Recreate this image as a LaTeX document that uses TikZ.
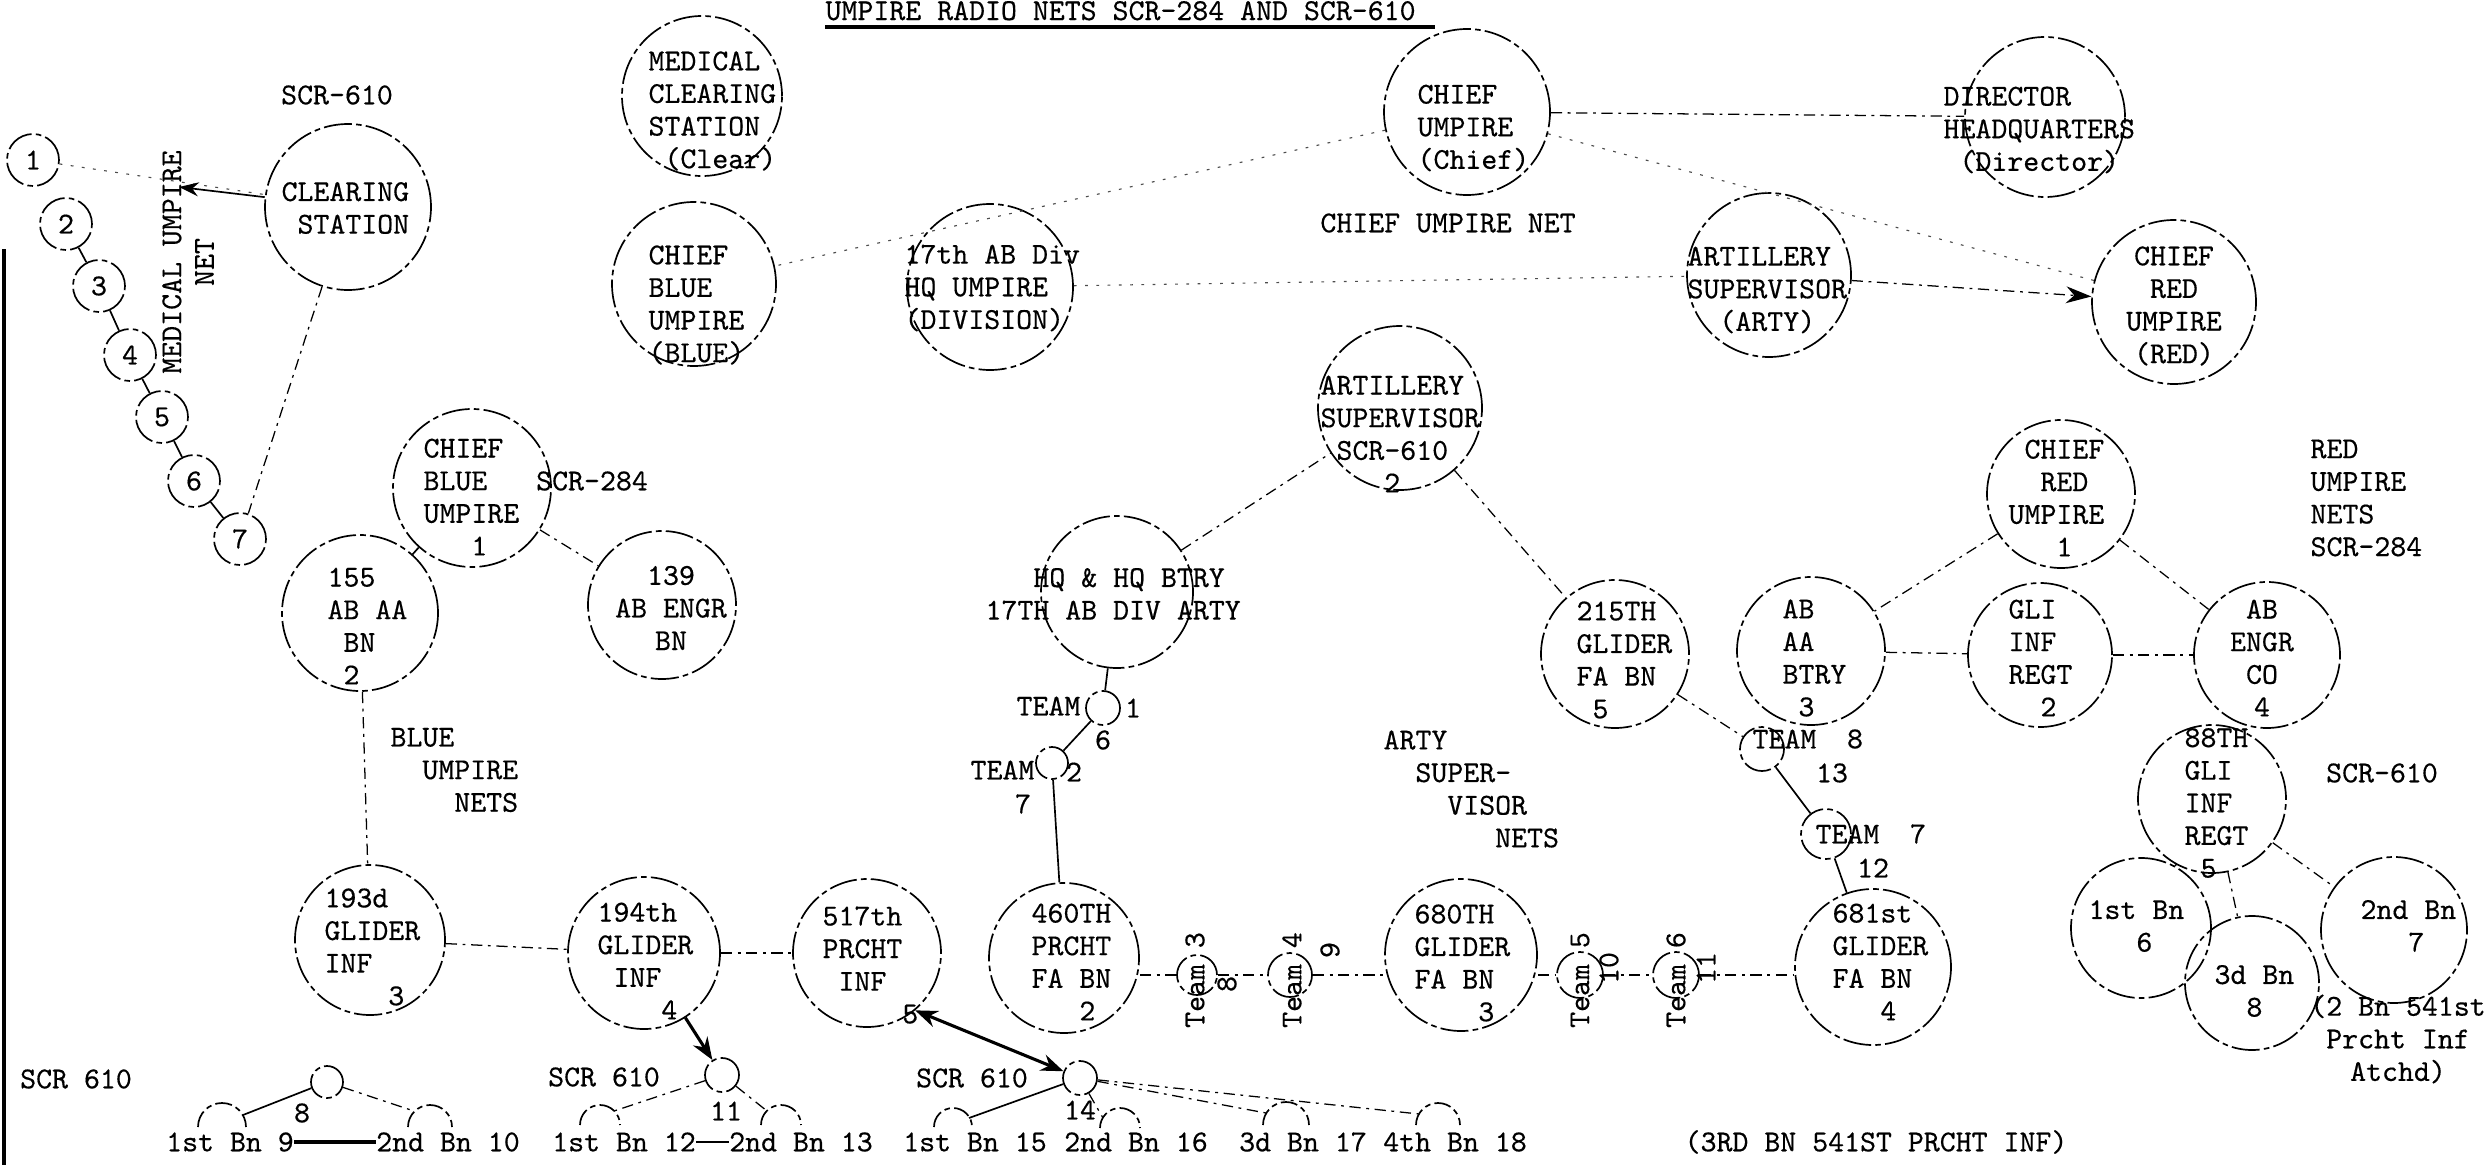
\documentclass[tikz,border=0pt]{standalone}
\usepackage{fontspec}
\setmonofont[FakeBold=0.4]{lmmono10-regular.otf}
\usetikzlibrary{arrows.meta}
\newcommand\umpfont{\fontsize{10.8}{11.6}\selectfont\ttfamily}
\begin{document}
\begin{tikzpicture}[x=0.0125cm,y=-0.0125cm,
  circ/.style={circle, draw, inner sep=0pt, minimum size=#1*0.025cm, line width=0.6pt,
     dash pattern=on 10pt off 1.5pt on 2pt off 1.5pt, font=\umpfont},
  arcline/.style={line width=0.6pt, dash pattern=on 6pt off 1.5pt on 2pt off 1.5pt},
  txt/.style={font=\umpfont, inner sep=0pt, align=left, anchor=west},
  ctxt/.style={font=\umpfont, inner sep=0pt, align=center},
  link/.style={line width=0.45pt, dash pattern=on 4pt off 2pt on 1pt off 2pt},
  faint/.style={line width=0.4pt, dash pattern=on 1pt off 3pt, black!70},
  solidlink/.style={line width=0.6pt},
  boldarrow/.style={line width=1.1pt, -{Stealth[length=8pt,width=6pt]}}
]
\useasboundingbox (0,0) rectangle (2492,1165);
\clip (0,0) rectangle (2492,1165);

% border and title
\draw[line width=1.1pt] (4,249) -- (4,1165);
\node[txt, anchor=base west] (title) at (825,20) {UMPIRE RADIO NETS SCR-284 AND SCR-610};
\draw[line width=1.4pt] (825,27) -- (1435,27);

% ---------- medical umpire net ----------
\node[circ=80] (cmed) at (702,96) {};
\node[txt] (tmed) at (648,111) {MEDICAL\\CLEARING\\STATION\\~(Clear)};
\node[ctxt] (lscr610a) at (337,95) {SCR-610};
\node[circ=83] (cclr) at (348,207) {};
\node[txt] (tclr) at (281,208) {CLEARING\\~STATION};
\node[ctxt, rotate=90] (tmun) at (188,262) {MEDICAL UMPIRE\\NET};
\node[circ=26] (n1) at (33,160) {1};
\node[circ=26] (n2) at (66,224) {2};
\node[circ=26] (n3) at (99,286) {3};
\node[circ=26] (n4) at (130,355) {4};
\node[circ=26] (n5) at (162,417) {5};
\node[circ=26] (n6) at (194,481) {6};
\node[circ=26] (n7) at (240,539) {7};
\coordinate (marrow) at (179,187);
\draw[faint] (n1) -- (cclr);
\draw[solidlink, -{Stealth[length=7pt,width=5pt]}] (cclr) -- (marrow);
\draw[solidlink] (n2) -- (n3);
\draw[solidlink] (n3) -- (n4);
\draw[solidlink] (n4) -- (n5);
\draw[solidlink] (n5) -- (n6);
\draw[solidlink] (n6) -- (n7);
\draw[link] (cclr) -- (n7);

% ---------- chief umpire net ----------
\node[circ=82] (cbluetop) at (694,284) {};
\node[txt] (tbluetop) at (648,305) {CHIEF\\BLUE\\UMPIRE\\(BLUE)};
\node[circ=83] (cdiv) at (990,287) {};
\node[txt] (tdiv) at (904,288) {17th AB Div\\HQ UMPIRE\\(DIVISION)};
\node[circ=83] (cchief) at (1467,112) {};
\node[txt] (tchief) at (1417,128) {CHIEF\\UMPIRE\\(Chief)};
\node[ctxt] (tcun) at (1448,223) {CHIEF UMPIRE NET};
\node[circ=80] (cdir) at (2045,117) {};
\node[txt] (tdir) at (1943,130) {DIRECTOR\\HEADQUARTERS\\~(Director)};
\node[circ=82] (cartytop) at (1769,275) {};
\node[txt] (tartytop) at (1687,290) {ARTILLERY\\SUPERVISOR\\~~(ARTY)};
\node[circ=82] (cred) at (2174,302) {};
\node[ctxt] (tred) at (2174,306) {CHIEF\\RED\\UMPIRE\\(RED)};
\draw[faint] (cchief) -- (cbluetop);
\draw[link] (cchief) -- (cdir);
\draw[faint] (cchief) -- (cred);
\draw[faint] (cdiv) -- (cartytop);
\draw[link, -{Stealth[length=9pt,width=6pt]}] (cartytop) -- (cred);

% ---------- artillery supervisor nets ----------
\node[circ=82] (carty2) at (1400,408) {};
\node[txt] (tarty2) at (1320,434) {ARTILLERY\\SUPERVISOR\\~SCR-610\\~~~~2};
\node[circ=76] (chq) at (1117,592) {};
\node[txt] (thq) at (985,594) {~~~HQ \& HQ BTRY\\17TH AB DIV ARTY};
\draw[link] (chq) -- (carty2);
\node[circ=17] (ct1) at (1103,708) {};
\node[txt] (ltm1) at (1016,706) {TEAM};
\node[ctxt] (ltm1a) at (1133,708) {1};
\node[ctxt] (ltm1b) at (1103,740) {6};
\node[circ=16] (ct2) at (1052,763) {};
\node[txt] (ltm2) at (970,770) {TEAM};
\node[ctxt] (ltm2a) at (1074,772) {2};
\node[ctxt] (ltm2b) at (1023,804) {7};
\node[circ=75] (c460) at (1064,958) {};
\node[txt] (t460) at (1031,962) {460TH\\PRCHT\\FA BN\\~~~2};
\draw[solidlink] (chq) -- (ct1);
\draw[solidlink] (ct1) -- (ct2);
\draw[solidlink] (ct2) -- (c460);
\node[txt] (tartynets) at (1383,789) {ARTY\\~~SUPER-\\~~~~VISOR\\~~~~~~~NETS};
\node[circ=20] (ct3) at (1197,975) {};
\node[ctxt, rotate=90] (ltm3) at (1195,980) {Team 3};
\node[ctxt, rotate=90] (ltm3b) at (1227,984) {8};
\node[circ=22] (ct4) at (1290,975) {};
\node[ctxt, rotate=90] (ltm4) at (1292,980) {Team 4};
\node[ctxt, rotate=90] (ltm4b) at (1330,950) {9};
\node[circ=76] (c680) at (1461,955) {};
\node[txt] (t680) at (1414,963) {680TH\\GLIDER\\FA BN\\~~~~3};
\node[circ=23] (ct5) at (1580,975) {};
\node[ctxt, rotate=90] (ltm5) at (1580,980) {Team 5};
\node[ctxt, rotate=90] (ltm5b) at (1609,968) {10};
\node[circ=23] (ct6) at (1676,975) {};
\node[ctxt, rotate=90] (ltm6) at (1676,980) {Team 6};
\node[ctxt, rotate=90] (ltm6b) at (1706,968) {11};
\node[circ=78] (c681) at (1873,967) {};
\node[txt] (t681) at (1832,962) {681st\\GLIDER\\FA BN\\~~~4};
\draw[link] (c460.east |- ct3) -- (ct3.west);
\draw[link] (ct3.east) -- (ct4.west);
\draw[link] (ct4.east) -- (ct4.east -| c680.west);
\draw[link] (c680.east |- ct5) -- (ct5.west);
\draw[link] (ct5.east) -- (ct6.west);
\draw[link] (ct6.east) -- (ct6.east -| c681.west);

% ---------- red umpire nets ----------
\node[circ=74] (c215) at (1615,654) {};
\node[txt] (t215) at (1576,660) {215TH\\GLIDER\\FA BN\\~5};
\draw[link] (carty2) -- (c215);
\node[circ=74] (cabaa) at (1811,651) {};
\node[txt] (tabaa) at (1782,658) {AB\\AA\\BTRY\\~3};
\node[circ=22] (ct8) at (1762,749) {};
\node[txt] (ltm8) at (1752,739) {TEAM};
\node[ctxt] (ltm8a) at (1855,739) {8};
\node[ctxt] (ltm8b) at (1832,773) {13};
\node[circ=25] (ct7) at (1826,834) {};
\node[txt] (ltm7) at (1815,834) {TEAM};
\node[ctxt] (ltm7a) at (1918,834) {7};
\node[ctxt] (ltm7b) at (1873,868) {12};
\draw[link] (c215) -- (ct8);
\draw[solidlink] (ct8) -- (ct7);
\draw[solidlink] (ct7) -- (c681);
\node[circ=74] (credc1) at (2061,494) {};
\node[txt] (tredc1) at (2008,498) {~CHIEF\\~~RED\\UMPIRE\\~~~1};
\node[txt] (trednets) at (2310,498) {RED\\UMPIRE\\NETS\\SCR-284};
\node[circ=72] (cgli) at (2040,655) {};
\node[txt] (tgli) at (2008,658) {GLI\\INF\\REGT\\~~2};
\node[circ=73] (cabengr) at (2267,655) {};
\node[ctxt] (tabengr) at (2262,658) {AB\\ENGR\\CO\\4};
\draw[link] (credc1) -- (cabaa);
\draw[link] (credc1) -- (cabengr);
\draw[link] (cabaa) -- (cgli);
\draw[link] (cgli) -- (cabengr);
\node[circ=74] (c88) at (2212,799) {};
\node[txt] (t88) at (2184,803) {88TH\\GLI\\INF\\REGT\\~5};
\node[ctxt] (lscr610r) at (2382,773) {SCR-610};
\node[circ=70] (cb1) at (2141,928) {};
\node[txt] (tb1) at (2088,926) {1st Bn\\~~~6};
\node[circ=73] (cb2) at (2394,930) {};
\node[txt] (tb2) at (2360,926) {2nd Bn\\~~~7};
\node[circ=67] (cb3) at (2252,983) {};
\node[txt] (tb3) at (2214,991) {3d Bn\\~~8};
\node[ctxt] (tatchd) at (2398,1039) {(2 Bn 541st\\Prcht Inf\\Atchd)};
\draw[solidlink] (c88) -- (cb1);
\draw[link] (c88) -- (cb3);
\draw[link] (c88) -- (cb2);
\node[ctxt] (t541) at (1876,1142) {(3RD BN 541ST PRCHT INF)};

% ---------- blue umpire nets ----------
\node[circ=79] (ccb1) at (472,488) {};
\node[txt] (tcb1) at (423,497) {CHIEF\\BLUE\\UMPIRE\\~~~1};
\node[ctxt] (lscr284) at (592,481) {SCR-284};
\node[circ=78] (c155) at (360,613) {};
\node[txt] (t155) at (327,626) {155\\AB AA\\~BN\\~2};
\node[circ=74] (c139) at (662,605) {};
\node[ctxt] (t139) at (671,608) {139\\AB ENGR\\BN};
\node[txt] (tbluenets) at (390,770) {BLUE\\~~UMPIRE\\~~~~NETS};
\node[circ=75] (c193) at (370,940) {};
\node[txt] (t193) at (324,947) {193d\\GLIDER\\INF\\~~~~3};
\node[circ=76] (c194) at (644,953) {};
\node[txt] (t194) at (597,961) {194th\\GLIDER\\~INF\\~~~~4};
\node[circ=74] (c517) at (867,953) {};
\node[txt] (t517) at (822,965) {517th\\PRCHT\\~INF\\~~~~~5};
\draw[solidlink] (ccb1) -- (c155);
\draw[link] (ccb1) -- (c139);
\draw[link] (c155) -- (c193);
\draw[link] (c193) -- (c194);
\draw[link] (c194) -- (c517);

% ---------- SCR 610 battalion nets ----------
\node[ctxt] (lscr610b) at (76,1079) {SCR 610};
\node[ctxt] (lscr610c) at (604,1077) {SCR 610};
\node[ctxt] (lscr610d) at (972,1078) {SCR 610};
\node[circ=16] (c8) at (327,1082) {};
\node[ctxt] (l8) at (302,1113) {8};
\node[circ=17] (c11) at (722,1075) {};
\node[ctxt] (l11) at (726,1111) {11};
\node[circ=17] (c14) at (1080,1078) {};
\node[ctxt] (l14) at (1080,1110) {14};
\node[ctxt] (b9) at (230,1142) {1st Bn 9};
\node[ctxt] (b10) at (448,1142) {2nd Bn 10};
\node[ctxt] (b12) at (624,1142) {1st Bn 12};
\node[ctxt] (b13) at (801,1142) {2nd Bn 13};
\node[ctxt] (b15) at (975,1142) {1st Bn 15};
\node[ctxt] (b16) at (1136,1142) {2nd Bn 16};
\node[ctxt] (b17) at (1303,1142) {3d Bn 17};
\node[ctxt] (b18) at (1455,1142) {4th Bn 18};
\draw[line width=1.2pt] (b9) -- (b10);
\draw[line width=1pt] (b12) -- (b13);
\coordinate (a9) at (222,1127);
\coordinate (a10) at (430,1127);
\coordinate (a12) at (600,1125);
\coordinate (a13) at (781,1125);
\coordinate (a15) at (953,1127);
\coordinate (a16) at (1120,1128);
\coordinate (a17) at (1286,1125);
\coordinate (a18) at (1438,1125);
\draw[arcline] (a9) ++(-24,0) arc[start angle=180,end angle=0,radius=0.3cm];
\draw[arcline] (a10) ++(-22,0) arc[start angle=180,end angle=0,radius=0.275cm];
\draw[arcline] (a12) ++(-20,0) arc[start angle=180,end angle=0,radius=0.25cm];
\draw[arcline] (a13) ++(-20,0) arc[start angle=180,end angle=0,radius=0.25cm];
\draw[arcline] (a15) ++(-19,0) arc[start angle=180,end angle=0,radius=0.2375cm];
\draw[arcline] (a16) ++(-20,0) arc[start angle=180,end angle=0,radius=0.25cm];
\draw[arcline] (a17) ++(-23,0) arc[start angle=180,end angle=0,radius=0.2875cm];
\draw[arcline] (a18) ++(-22,0) arc[start angle=180,end angle=0,radius=0.275cm];
\coordinate (a9e) at (243,1115);
\coordinate (a10e) at (414,1111);
\coordinate (a12e) at (614,1111);
\coordinate (a13e) at (767,1111);
\coordinate (a15e) at (969,1118);
\coordinate (a16e) at (1103,1118);
\coordinate (a17e) at (1266,1113);
\coordinate (a18e) at (1419,1114);
\draw[solidlink] (c8) -- (a9e);
\draw[link] (c8) -- (a10e);
\draw[link] (c11) -- (a12e);
\draw[link] (c11) -- (a13e);
\draw[solidlink] (c14) -- (a15e);
\draw[link] (c14) -- (a16e);
\draw[link] (c14) -- (a17e);
\draw[link] (c14) -- (a18e);
\draw[boldarrow] (c194) -- (c11);
\draw[line width=1.1pt, {Stealth[length=8pt,width=6pt]}-{Stealth[length=8pt,width=6pt]}] (c517.-50) -- (c14);
\end{tikzpicture}
\end{document}
